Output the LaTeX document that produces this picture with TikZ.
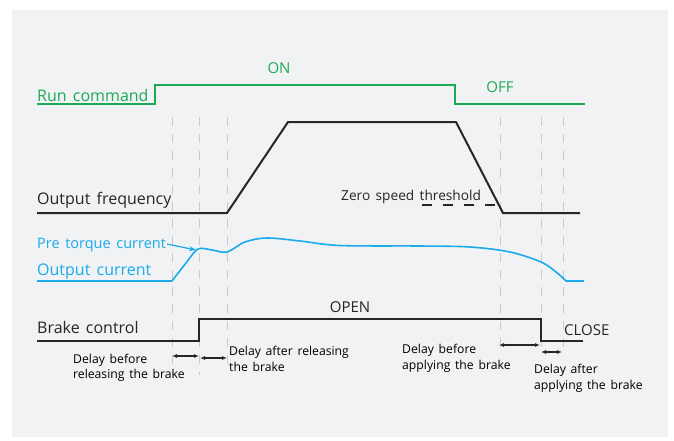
\documentclass[tikz,border=0pt]{standalone}
\usepackage{fontspec}
\setmainfont{Open Sans}[WordSpace=1.5]
\usetikzlibrary{arrows.meta}
\definecolor{bggray}{HTML}{F1F2F4}
\definecolor{rungreen}{HTML}{1DAA55}
\definecolor{curblue}{HTML}{1AABEB}
\definecolor{sigblack}{HTML}{262626}
\definecolor{guidegray}{HTML}{C9CACC}
\tikzset{
  lbl/.style={font=\fontsize{16}{19}\selectfont, inner sep=0pt, anchor=base west},
  tag/.style={font=\fontsize{15}{18}\selectfont, inner sep=0pt, anchor=base},
  sml/.style={font=\fontsize{12.2}{15.8}\selectfont, inner sep=0pt, anchor=north west, align=left},
  guide/.style={draw=guidegray, line width=1pt, dash pattern=on 9pt off 8pt},
  sig/.style={line width=2pt, draw=sigblack},
  dbl/.style={line width=1.2pt, draw=sigblack, {Latex[length=5pt,width=4pt]}-{Latex[length=5pt,width=4pt]}},
}
\begin{document}
\begin{tikzpicture}[x=1pt,y=-1pt]
\useasboundingbox (0,0) rectangle (674,440);
\fill[bggray] (12,10) rectangle (668,437);
% guide lines
\foreach \gx/\ge in {172/375,199/375,227/372,500/352,541/355,563/355}{
  \coordinate (gt\gx) at (\gx,117);
  \coordinate (gb\gx) at (\gx,\ge);
  \draw[guide] (gt\gx) -- (gb\gx);
}
% Run command
\coordinate (r0) at (37,104);
\coordinate (r1) at (155,104);
\coordinate (r2) at (155,85);
\coordinate (r3) at (455,85);
\coordinate (r4) at (455,104);
\coordinate (r5) at (585,104);
\draw[line width=2pt, rungreen] (r0) -- (r1) -- (r2) -- (r3) -- (r4) -- (r5);
\node[lbl, text=rungreen] (runlbl) at (37,101) {Run command};
\node[tag, text=rungreen] (onlbl) at (279,73) {ON};
\node[tag, text=rungreen] (offlbl) at (500,92) {OFF};
% Output frequency
\coordinate (f0) at (37,213);
\coordinate (f1) at (227,213);
\coordinate (f2) at (288,122);
\coordinate (f3) at (456,122);
\coordinate (f4) at (503,213);
\coordinate (f5) at (580,213);
\draw[sig] (f0) -- (f1) -- (f2) -- (f3) -- (f4) -- (f5);
\node[lbl, text=sigblack] (freqlbl) at (37,204) {Output frequency};
\node[lbl, font=\fontsize{13.7}{16}\selectfont, text=sigblack] (zslbl) at (341,200.5) {Zero speed threshold};
\coordinate (z0) at (422,205);
\coordinate (z1) at (498,205);
\draw[line width=2pt, sigblack, dash pattern=on 10pt off 11pt] (z0) -- (z1);
% Output current
\coordinate (c0) at (37,281);
\coordinate (c1) at (172,281);
\coordinate (c3) at (584,281);
\draw[line width=1.6pt, curblue, line join=round] (c0) -- (c1)
  plot[smooth, tension=0.55] coordinates {(172,281) (186,263) (198,249) (212,250) (227,252) (245,242) (267,238) (300,241) (340,245.5) (420,246) (470,247) (510,252) (541,262) (556,272) (566,281)}
  -- (c3);
\node[lbl, font=\fontsize{14.5}{17}\selectfont, text=curblue] (prelbl) at (37,248.5) {Pre torque current};
\node[lbl, text=curblue] (curlbl) at (37,275) {Output current};
\coordinate (pt) at (196,250);
\draw[line width=1.2pt, curblue, -{Stealth[length=7pt,width=5pt]}] (prelbl.east) ++(1,-1) -- (pt);
% Brake control
\coordinate (b0) at (37,341);
\coordinate (b1) at (199,341);
\coordinate (b2) at (199,319);
\coordinate (b3) at (541,319);
\coordinate (b4) at (541,341);
\coordinate (b5) at (583,341);
\draw[sig] (b0) -- (b1) -- (b2) -- (b3) -- (b4) -- (b5);
\node[lbl, text=sigblack] (brklbl) at (37,333) {Brake control};
\node[tag, text=sigblack] (openlbl) at (350,312) {OPEN};
\node[lbl, font=\fontsize{15}{18}\selectfont, text=sigblack] (closelbl) at (564,335) {CLOSE};
% delay arrows
\coordinate (a1l) at (172,356); \coordinate (a1r) at (199,356);
\coordinate (a2l) at (200,358); \coordinate (a2r) at (227,358);
\coordinate (a3l) at (499,345); \coordinate (a3r) at (540,345);
\coordinate (a4l) at (541,352); \coordinate (a4r) at (562,352);
\draw[dbl] (a1l) -- (a1r);
\draw[dbl] (a2l) -- (a2r);
\draw[dbl] (a3l) -- (a3r);
\draw[dbl] (a4l) -- (a4r);
\node[sml] (t1) at (73,353.5) {Delay before\\releasing the brake};
\node[sml] (t2) at (229,346) {Delay after releasing\\the brake};
\node[sml] (t3) at (402,344) {Delay before\\applying the brake};
\node[sml] (t4) at (534,364) {Delay after\\applying the brake};
\end{tikzpicture}
\end{document}
